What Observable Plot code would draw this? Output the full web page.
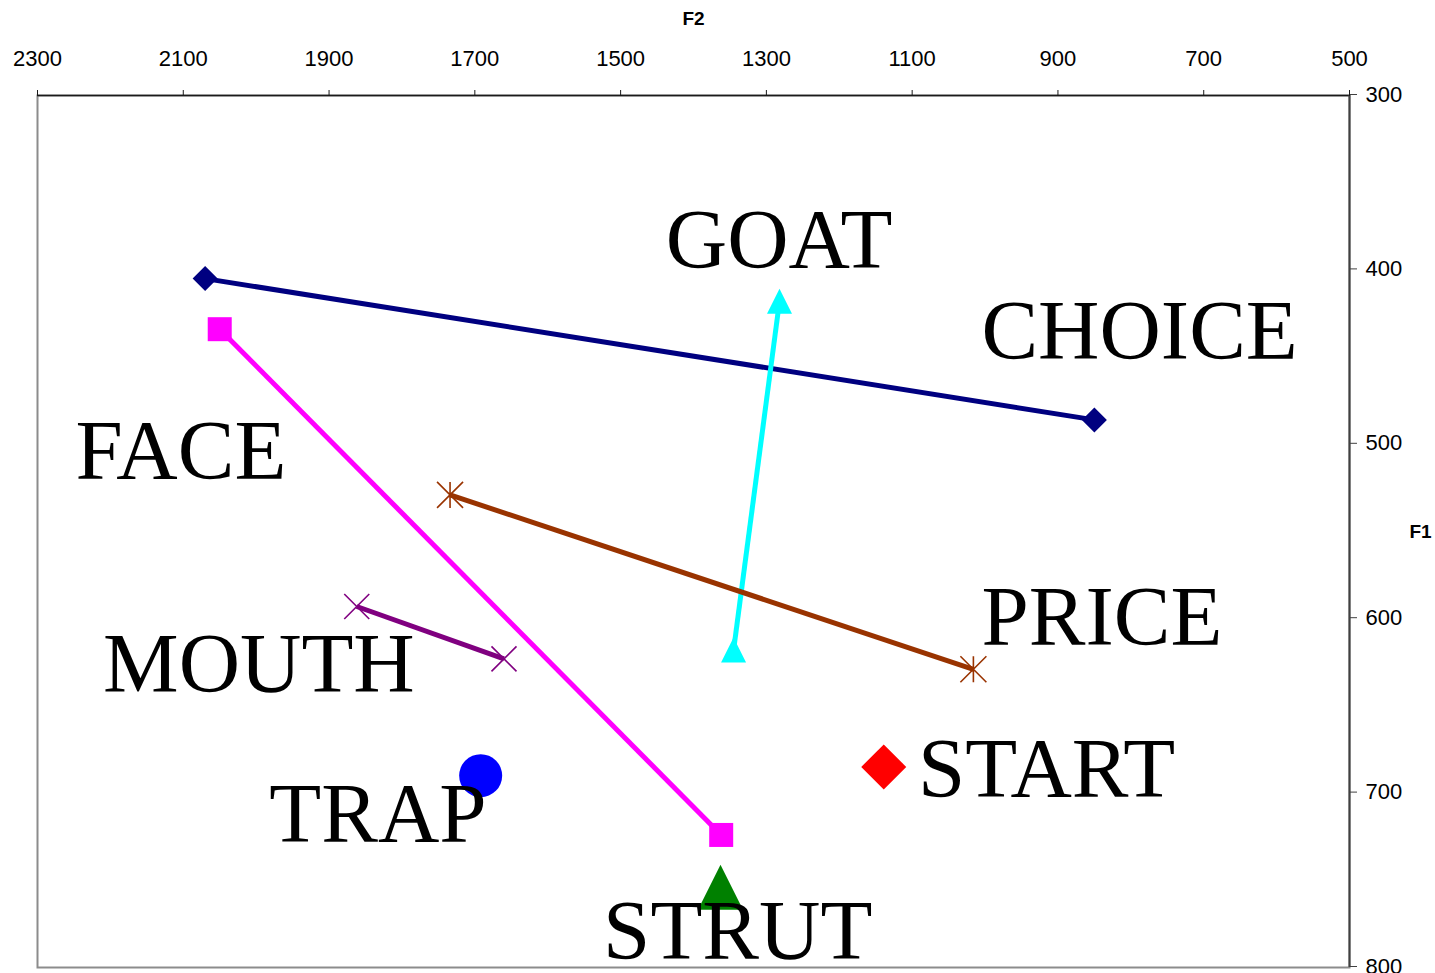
<!DOCTYPE html>
<html>
<head>
<meta charset="utf-8">
<script src="https://cdn.jsdelivr.net/npm/d3@7"></script>
<script src="https://cdn.jsdelivr.net/npm/@observablehq/plot@0.6"></script>
<style>
  html, body { margin: 0; padding: 0; background: #ffffff; }
</style>
</head>
<body>
<div id="chart"></div>
<script>
// ---- Data ----
const vowels   = ["CHOICE", "FACE", "GOAT", "PRICE", "MOUTH", "TRAP", "START", "STRUT"];
const f2Start  = [2070, 2050, 1345, 1734, 1862, 1692, 1139, 1363];
const f1Start  = [405, 434, 618, 529, 593, 690, 685, 754];
const f2End    = [850, 1362, 1282, 1016, 1660, null, null, null];
const f1End    = [486, 724, 418, 629, 623, null, null, null];
const colors   = ["#000080", "#FF00FF", "#00FFFF", "#993300", "#800080", "#0000FF", "#FF0000", "#008000"];
const markers  = ["diamond", "square", "triangle", "asterisk", "times", "circle", "diamond", "triangle"];
const markerR  = [12.5, 12, 12.5, 13, 12.5, 21.5, 22.5, 22.5];

const labelText = ["GOAT", "CHOICE", "FACE", "PRICE", "MOUTH", "START", "TRAP", "STRUT"];
const labelF2   = [1438, 1005, 2248, 1005, 2210, 1092, 1982, 1524];
const labelF1   = [399, 451, 520, 615, 642, 702, 728, 795];

const f2Ticks = [2300, 2100, 1900, 1700, 1500, 1300, 1100, 900, 700, 500];
const f1Ticks = [300, 400, 500, 600, 700, 800];

// ---- Marker shapes (size = PI*r^2 -> half width r) ----
const rad = (s) => Math.sqrt(s / Math.PI);
const symbols = {
  diamond: {draw(c, s) { const r = rad(s); c.moveTo(0, -r); c.lineTo(r, 0); c.lineTo(0, r); c.lineTo(-r, 0); c.closePath(); }},
  square: {draw(c, s) { const r = rad(s); c.moveTo(-r, -r); c.lineTo(r, -r); c.lineTo(r, r); c.lineTo(-r, r); c.closePath(); }},
  triangle: {draw(c, s) { const r = rad(s); c.moveTo(0, -r); c.lineTo(r, r); c.lineTo(-r, r); c.closePath(); }},
  circle: {draw(c, s) { const r = rad(s); c.moveTo(r, 0); c.arc(0, 0, r, 0, 2 * Math.PI); c.closePath(); }},
  times: {draw(c, s) { const r = rad(s); c.moveTo(-r, -r); c.lineTo(r, r); c.moveTo(r, -r); c.lineTo(-r, r); }},
  asterisk: {draw(c, s) { const r = rad(s); c.moveTo(-r, -r); c.lineTo(r, r); c.moveTo(r, -r); c.lineTo(-r, r); c.moveTo(0, -r); c.lineTo(0, r); }}
};
const strokeOnly = new Set(["times", "asterisk"]);

// ---- Marks ----
const marks = [Plot.frame({stroke: "#8c8c8c", strokeWidth: 2})];

vowels.forEach((v, i) => {
  const pts = [{vowel: v, f2: f2Start[i], f1: f1Start[i]}];
  if (f2End[i] != null) pts.push({vowel: v, f2: f2End[i], f1: f1End[i]});
  if (pts.length > 1) {
    marks.push(Plot.line(pts, {x: "f2", y: "f1", stroke: colors[i], strokeWidth: 5, strokeLinecap: "butt"}));
  }
  const so = strokeOnly.has(markers[i]);
  marks.push(Plot.dot(pts, {
    x: "f2", y: "f1", r: markerR[i], symbol: symbols[markers[i]],
    fill: so ? "none" : colors[i],
    stroke: so ? colors[i] : "none",
    strokeWidth: so ? 1.6 : 0
  }));
});

const labels = labelText.map((t, i) => ({text: t, f2: labelF2[i], f1: labelF1[i]}));
marks.push(Plot.text(labels, {
  x: "f2", y: "f1", text: "text", textAnchor: "start", lineAnchor: "bottom",
  fontSize: 85, fontFamily: "Liberation Serif", fill: "#000"
}));

marks.push(Plot.ruleY([300], {stroke: "#1a1a1a", strokeWidth: 1.5}));
marks.push(Plot.ruleX([500], {stroke: "#404040", strokeWidth: 2}));

marks.push(Plot.axisX(f2Ticks, {
  anchor: "top", tickSize: 6, tickPadding: 24, fontSize: 22,
  tickFormat: (d) => `${d}`, label: null, stroke: "#1a1a1a"
}));
marks.push(Plot.axisY(f1Ticks, {
  anchor: "right", tickSize: 7, tickPadding: 9, fontSize: 22,
  tickFormat: (d) => `${d}`, label: null, stroke: "#404040", dy: -1
}));

marks.push(Plot.text(["F2"], {
  frameAnchor: "top", dy: -77, text: (d) => d, fontSize: 19, fontWeight: "bold", lineAnchor: "middle"
}));
marks.push(Plot.text(["F1"], {
  frameAnchor: "right", dx: 71, text: (d) => d, fontSize: 19, fontWeight: "bold", textAnchor: "middle"
}));

const chart = Plot.plot({
  width: 1435,
  height: 973,
  marginTop: 95,
  marginBottom: 6,
  marginLeft: 37,
  marginRight: 86,
  x: {domain: [2300, 500], label: null, axis: null},
  y: {domain: [800, 300], label: null, axis: null},
  style: {fontFamily: "Liberation Sans, Arial, sans-serif", background: "#ffffff", color: "#000", overflow: "visible"},
  marks
});
document.getElementById("chart").appendChild(chart);
</script>
</body>
</html>
